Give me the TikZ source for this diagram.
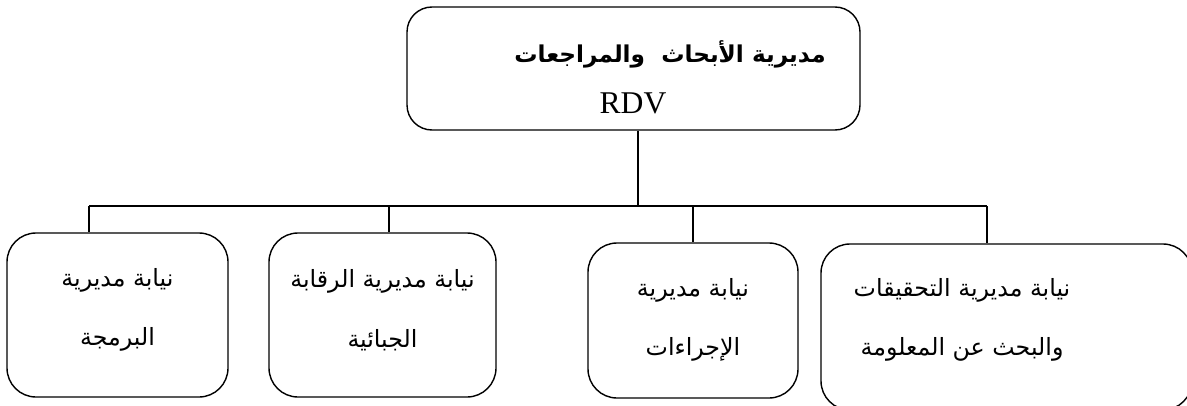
\documentclass[tikz,border=0pt]{standalone}
\usepackage{fontspec}
\setmainfont{Liberation Serif}
\newfontfamily\arabicfont[Script=Arabic]{DejaVu Sans}
\TeXXeTstate=1

\begin{document}
\begin{tikzpicture}[
    unitbox/.style={draw, line width=0.8pt, rounded corners=0.58cm, inner sep=0pt},
    unittext/.style={align=center, font={\arabicfont\fontsize{13.5}{34}\selectfont}}
  ]
        \def\busy{3.98}
        \useasboundingbox (0,0) rectangle (23.74,8.1);
        \clip (0,0) rectangle (23.74,8.1);

        % Top - Direction
        \node[unitbox, rounded corners=0.5cm, minimum width=9.06cm, minimum height=2.46cm] (rdv) at (12.67,6.73) {};
        \node[font={\arabicfont\bfseries\fontsize{13.2}{18}\selectfont}] (rdvtitle) at (13.4,7.02) {\beginR مديرية الأبحاث\ \ والمراجعات\endR};
        \node[font=\fontsize{18}{20}\selectfont] (rdvcode) at (12.66,6.04) {RDV};

        % Four sub-directions, left to right
        \node[unitbox, minimum width=4.42cm, minimum height=3.28cm] (prog) at (2.35,1.80) {};
        \node[unitbox, minimum width=4.54cm, minimum height=3.28cm] (fisc) at (7.65,1.80) {};
        \node[unitbox, minimum width=4.20cm, minimum height=3.10cm] (proc) at (13.86,1.69) {};
        \node[unitbox, minimum width=7.42cm, minimum height=3.32cm] (enq) at (20.13,1.56) {};

        \node[unittext] (progtext) at (2.35,1.90) {\beginR نيابة مديرية\endR\\\beginR البرمجة\endR};
        \node[unittext] (fisctext) at (7.65,1.90) {\beginR نيابة مديرية الرقابة\endR\\\beginR الجبائية\endR};
        \node[unittext] (proctext) at (13.86,1.70) {\beginR نيابة مديرية\endR\\\beginR الإجراءات\endR};
        \node[unittext] (enqtext) at (19.24,1.70) {\beginR نيابة مديرية التحقيقات\endR\\\beginR والبحث عن المعلومة\endR};

        % Bus and drops
        \coordinate (top) at (12.76,\busy);
        \coordinate (d1) at (1.78,\busy);
        \coordinate (d2) at (7.78,\busy);
        \coordinate (d3) at (13.86,\busy);
        \coordinate (d4) at (19.74,\busy);
        \draw[line width=0.8pt] (rdv.south -| top) -- (top);
        \draw[line width=0.8pt] (d1) -- (d4);
        \draw[line width=0.8pt] (d1) -- (d1 |- prog.north);
        \draw[line width=0.8pt] (d2) -- (d2 |- fisc.north);
        \draw[line width=0.8pt] (d3) -- (d3 |- proc.north);
        \draw[line width=0.8pt] (d4) -- (d4 |- enq.north);
    \end{tikzpicture}
\end{document}
